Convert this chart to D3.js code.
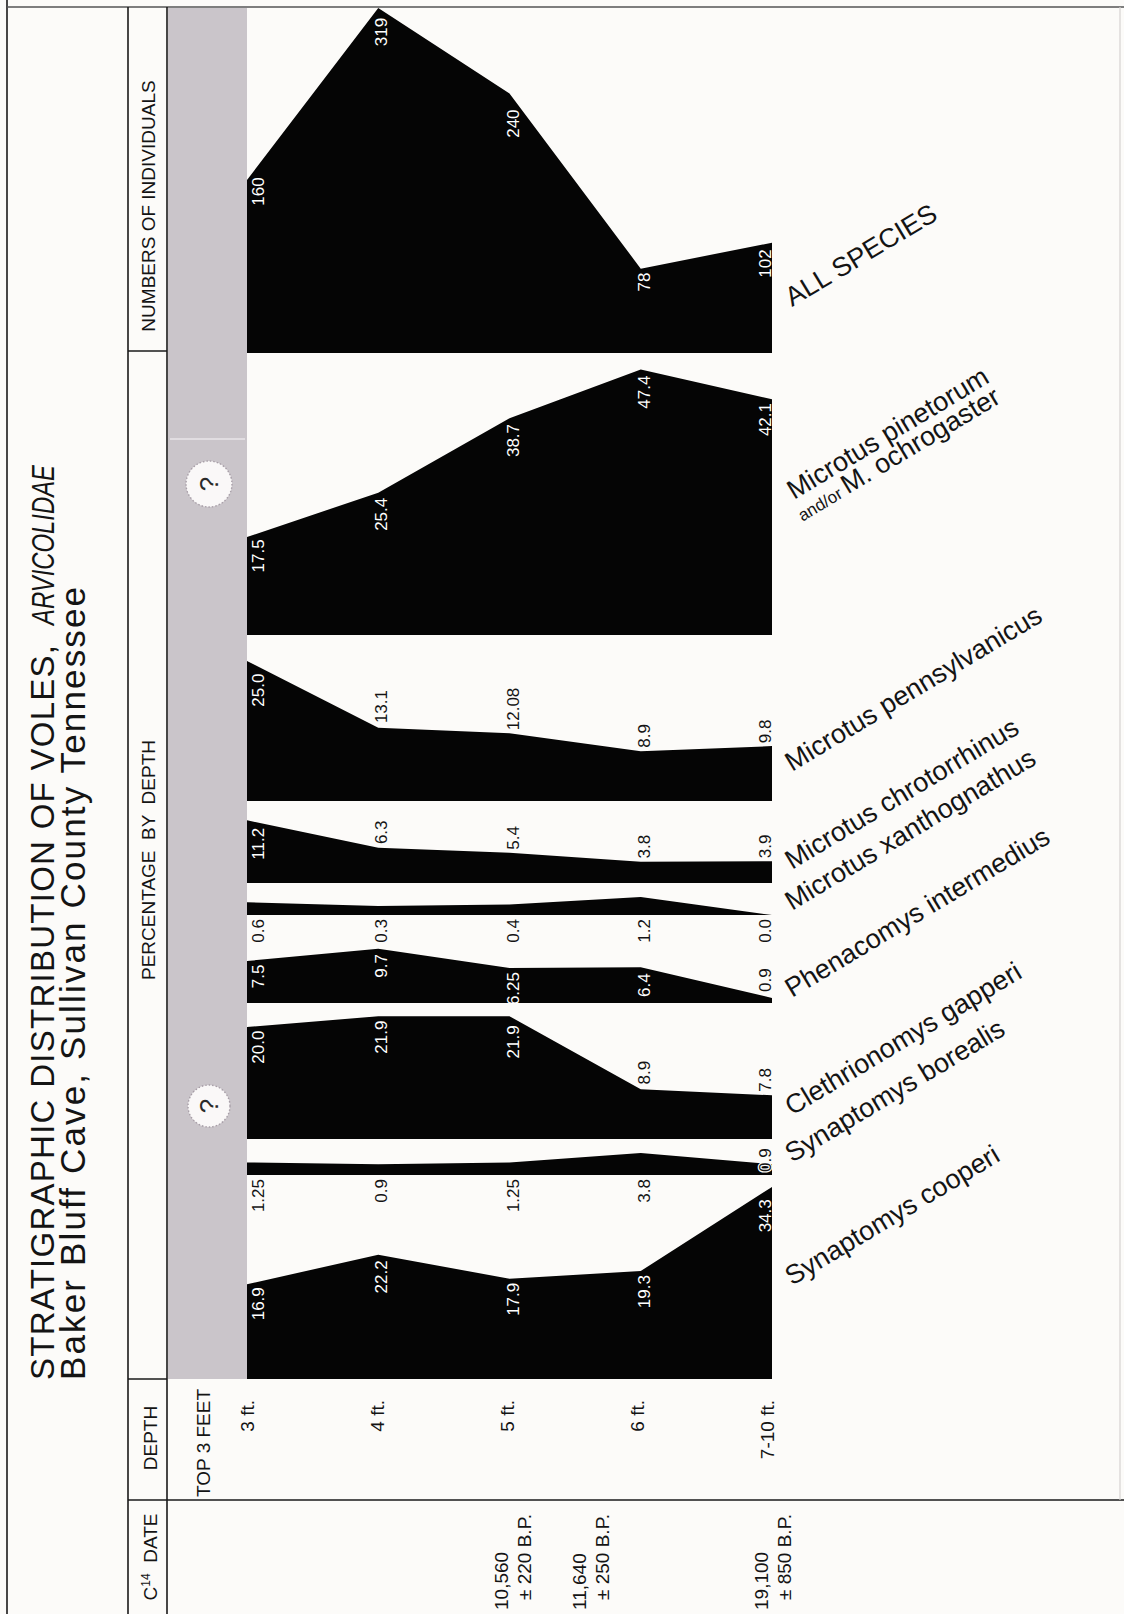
<!DOCTYPE html>
<html>
<head>
<meta charset="utf-8">
<script src="https://cdn.jsdelivr.net/npm/d3@7"></script>
<style>
  body { margin: 0; background: #fcfbf9; }
  svg { display: block; font-family: "Liberation Sans", Arial, Helvetica, sans-serif; }
</style>
</head>
<body>
<svg id="chart" width="1124" height="1614"></svg>
<script>
// depth levels in the section, top to bottom
const depths = ["3 ft.", "4 ft.", "5 ft.", "6 ft.", "7-10 ft."];

// numbers of individuals, all species
const totalCounts = [160, 319, 240, 78, 102];

// percentage by depth for each taxon
const pinetorum = [17.5, 25.4, 38.7, 47.4, 42.1];
const pennsylvanicus = [25.0, 13.1, 12.08, 8.9, 9.8];
const chrotorrhinus = [11.2, 6.3, 5.4, 3.8, 3.9];
const xanthognathus = [0.6, 0.3, 0.4, 1.2, 0.0];
const phenacomys = [7.5, 9.7, 6.25, 6.4, 0.9];
const clethrionomys = [20.0, 21.9, 21.9, 8.9, 7.8];
const borealis = [1.25, 0.9, 1.25, 3.8, 0.9];
const cooperi = [16.9, 22.2, 17.9, 19.3, 34.3];

const bandNames = [
  "ALL  SPECIES",
  "Microtus  pinetorum",
  "Microtus  pennsylvanicus",
  "Microtus  chrotorrhinus",
  "Microtus  xanthognathus",
  "Phenacomys  intermedius",
  "Clethrionomys  gapperi",
  "Synaptomys  borealis",
  "Synaptomys  cooperi"
];
const bandValues = [totalCounts, pinetorum, pennsylvanicus, chrotorrhinus,
  xanthognathus, phenacomys, clethrionomys, borealis, cooperi];
const bandKinds = ["count", "pct", "pct", "pct", "trace", "pct", "pct", "trace", "pct"];

// radiocarbon dates and the depth (ft) they sit at
const dateValues = ["10,560", "11,640", "19,100"];
const dateErrors = ["\u00b1 220 B.P.", "\u00b1 250 B.P.", "\u00b1 850 B.P."];
const dateDepthFt = [5, 5.6, 7];

// ---- layout ----
const bandBase = [353, 635, 801, 883, 915, 1003, 1139, 1175, 1379];
const traceMaxPx = { 4: 18, 7: 22 };
const nameAt = [[792, 307], [794, 500], [792, 772], [792, 870], [792, 911],
  [792, 998], [792, 1116], [792, 1163], [792, 1286]];

const svg = d3.select("#chart");
const ink = "#141414";

const x = d3.scalePoint().domain(depths).range([247, 772]);
const xLabel = d3.scalePoint().domain(depths).range([253, 773]);
const xFeet = d3.scaleLinear().domain([3, 7]).range([253, 773]);

const countH = d3.scaleLinear().domain([0, d3.max(totalCounts)]).range([0, 345]);
const pctH = d3.scaleLinear().domain([0, 50]).range([0, 280]);

const bands = bandValues.map((vals, k) => {
  let h;
  if (bandKinds[k] === "count") h = countH;
  else if (bandKinds[k] === "trace") h = d3.scaleSqrt().domain([0, d3.max(vals)]).range([0, traceMaxPx[k]]);
  else h = pctH;
  return { k, vals, base: bandBase[k], kind: bandKinds[k], h, name: bandNames[k] };
});

function vText(parent, px, py, str, anchor, size, fill) {
  return parent.append("text")
    .attr("transform", `translate(${px},${py}) rotate(-90)`)
    .attr("text-anchor", anchor)
    .attr("font-size", size)
    .attr("fill", fill || ink)
    .text(str);
}

// ---- frame ----
const frame = svg.append("g").attr("stroke", "#1a1a1a").attr("stroke-width", 1.6);
frame.append("line").attr("x1", 7).attr("y1", 0).attr("x2", 7).attr("y2", 1614);
frame.append("line").attr("x1", 7).attr("y1", 7).attr("x2", 1124).attr("y2", 7).attr("stroke", "#555");
frame.append("line").attr("x1", 128).attr("y1", 7).attr("x2", 128).attr("y2", 1614);
frame.append("line").attr("x1", 167).attr("y1", 7).attr("x2", 167).attr("y2", 1614);
frame.append("line").attr("x1", 128).attr("y1", 351).attr("x2", 167).attr("y2", 351);
frame.append("line").attr("x1", 128).attr("y1", 1379).attr("x2", 167).attr("y2", 1379);
frame.append("line").attr("x1", 128).attr("y1", 1500).attr("x2", 1124).attr("y2", 1500);
frame.append("line").attr("x1", 1120).attr("y1", 7).attr("x2", 1120).attr("y2", 1500)
  .attr("stroke", "#d6d3d0").attr("stroke-width", 1.2);

// grey "top 3 feet" column
svg.append("rect").attr("x", 168).attr("y", 8).attr("width", 79).attr("height", 1371)
  .attr("fill", "#cac5ca");
svg.append("line").attr("x1", 170).attr("y1", 439).attr("x2", 245).attr("y2", 439)
  .attr("stroke", "#e8e5e8").attr("stroke-width", 1.5);

[[209, 484, 23], [209, 1106, 21]].forEach(([cx, cy, r]) => {
  svg.append("circle").attr("cx", cx).attr("cy", cy).attr("r", r)
    .attr("fill", "#faf8f8").attr("stroke", "#a89fa8").attr("stroke-width", 1.4)
    .attr("stroke-dasharray", "1.5 2");
  vText(svg, cx + 9, cy, "?", "middle", 26, "#2a2a2a");
});

// ---- bands ----
const area = (b) => d3.area()
  .x((d, i) => x(depths[i]))
  .y0(b.base)
  .y1(d => b.base - b.h(d));

svg.append("g").selectAll("path")
  .data(bands)
  .join("path")
  .attr("d", b => area(b)(b.vals))
  .attr("fill", "#050505");

function topAt(b, px) {
  const xs = depths.map(d => x(d));
  px = Math.max(xs[0], Math.min(xs[xs.length - 1], px));
  for (let i = 0; i < xs.length - 1; i++) {
    if (px <= xs[i + 1]) {
      const t = (px - xs[i]) / (xs[i + 1] - xs[i]);
      const v = b.vals[i] + t * (b.vals[i + 1] - b.vals[i]);
      return b.base - b.h(v);
    }
  }
  return b.base - b.h(b.vals[b.vals.length - 1]);
}
function spanTops(b, x0, x1) {
  const ys = d3.range(x0, x1 + 0.5, 1).map(px => topAt(b, px));
  return [d3.min(ys), d3.max(ys)];
}

const fmtPct = v => Math.abs(v * 10 - Math.round(v * 10)) < 1e-9 ? v.toFixed(1) : v.toFixed(2);
const fmtCount = d3.format("d");
const valueSize = 17;
const lbl = svg.append("g");

let upperLimit = 7;
bands.forEach((b, bi) => {
  let floor = b.base;
  b.vals.forEach((v, i) => {
    const str = b.kind === "count" ? fmtCount(v) : fmtPct(v);
    const bx = Math.max(264, Math.min(771, x(depths[i]) + 9));
    const t = vText(lbl, bx, 0, str, "end", valueSize, "#fff");
    const L = t.node().getComputedTextLength();
    const [tMin, tMax] = spanTops(b, bx - 12, bx);

    if (b.kind === "trace") {
      const next = bands[bi + 1];
      const nextTop = spanTops(next, bx - 12, bx)[0];
      if (nextTop - (b.base + 4) >= L + 2) {
        t.attr("transform", `translate(${bx},${b.base + 4}) rotate(-90)`).attr("fill", ink);
        floor = Math.max(floor, b.base + 4 + L);
      } else {
        t.attr("transform", `translate(${bx},${b.base - 3}) rotate(-90)`)
          .attr("text-anchor", "start").attr("fill", ink)
          .attr("stroke", "#fcfbf9").attr("stroke-width", 2.5).attr("paint-order", "stroke");
      }
    } else {
      const above = b.kind === "pct" && v < 14 && (tMin - upperLimit) >= L + 6;
      if (above) {
        t.attr("transform", `translate(${bx},${tMin - 3}) rotate(-90)`)
          .attr("text-anchor", "start").attr("fill", ink);
      } else {
        t.attr("transform", `translate(${bx},${tMax + 4}) rotate(-90)`);
      }
    }
  });
  upperLimit = floor;
});

// ---- species names ----
const names = svg.append("g").attr("fill", ink).style("white-space", "pre");
bands.forEach((b, k) => {
  const g = names.append("g").attr("transform", `translate(${nameAt[k][0]},${nameAt[k][1]}) rotate(-31)`);
  g.append("text").attr("font-size", 27).text(b.name);
  if (k === 1) {
    const t2 = g.append("text").attr("x", -4).attr("y", 23);
    t2.append("tspan").attr("font-size", 17).text("and/or ");
    t2.append("tspan").attr("font-size", 27).text("M. ochrogaster");
  }
});

// ---- headers ----
vText(svg, 155, 206, "NUMBERS OF INDIVIDUALS", "middle", 19);
vText(svg, 155, 860, "PERCENTAGE  BY  DEPTH", "middle", 19).style("white-space", "pre");
vText(svg, 157, 1438, "DEPTH", "middle", 19);
const c14 = vText(svg, 157, 1557, "", "middle", 19);
c14.append("tspan").text("C");
c14.append("tspan").attr("font-size", 12).attr("baseline-shift", "super").text("14");
c14.append("tspan").style("white-space", "pre").text("  DATE");
vText(svg, 210, 1497, "TOP 3 FEET", "start", 19);

// depth labels
depths.forEach(d => vText(svg, xLabel(d) + 1, 1400, d, "end", 19));

// radiocarbon dates
dateValues.forEach((d, i) => {
  const px = xFeet(dateDepthFt[i]) - 5;
  vText(svg, px, 1610, d, "start", 19);
  vText(svg, px + 23, 1600, dateErrors[i], "start", 19);
});

// ---- title ----
function fitText(t, target) {
  const n = t.text().length;
  const L = t.node().getComputedTextLength();
  t.attr("letter-spacing", (target - L) / (n - 1));
}
const t1 = vText(svg, 54, 1380, "STRATIGRAPHIC DISTRIBUTION OF VOLES,", "start", 33);
fitText(t1, 735);
vText(svg, 54, 625, "ARVICOLIDAE", "start", 32)
  .attr("font-style", "italic")
  .attr("textLength", 160)
  .attr("lengthAdjust", "spacingAndGlyphs");
const t2 = vText(svg, 85, 1380, "Baker Bluff Cave, Sullivan County Tennessee", "start", 35);
fitText(t2, 793);
</script>
</body>
</html>
